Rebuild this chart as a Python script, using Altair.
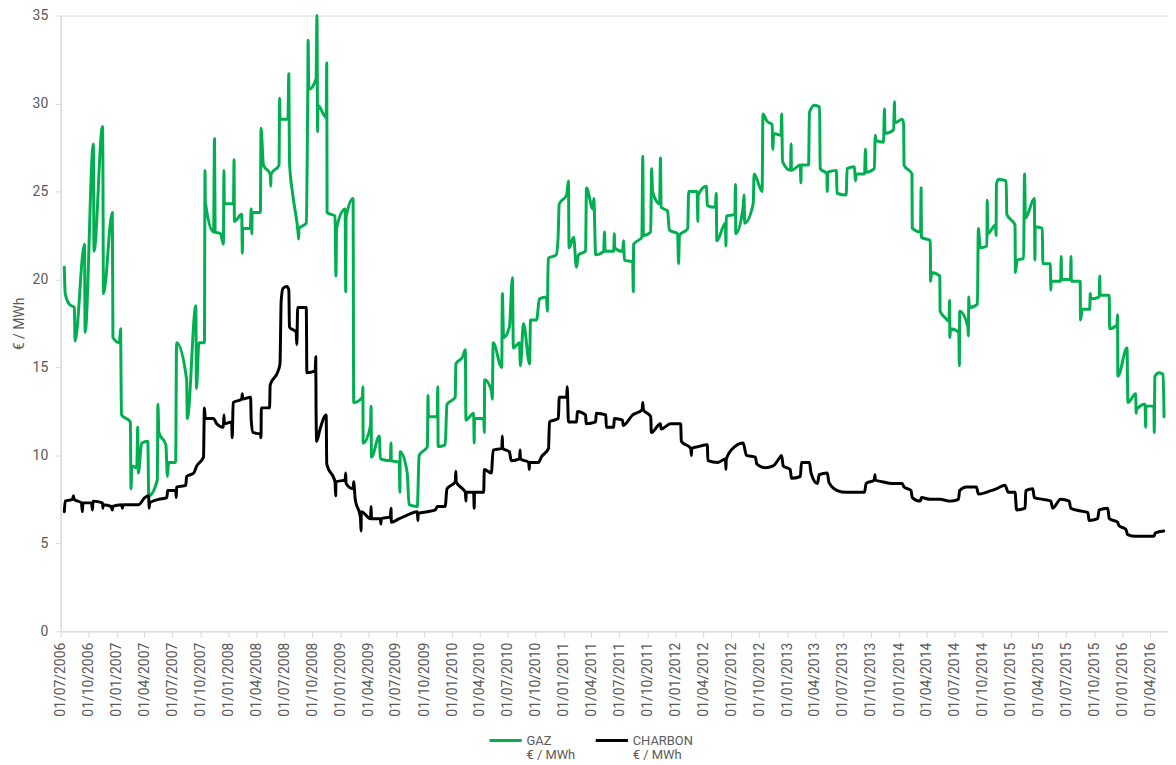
import altair as alt
import pandas as pd

series_names = ["GAZ", "CHARBON"]
series_colors = ["#00B050", "#000000"]
unit_label = "€ / MWh"

gaz_dates = [
    "2006-07-13", "2006-07-16", "2006-07-29", "2006-08-15", "2006-08-17", "2006-09-17", "2006-09-19",
    "2006-10-16", "2006-10-18", "2006-11-15", "2006-11-16", "2006-11-18", "2006-12-17", "2006-12-19",
    "2007-01-09", "2007-01-13", "2007-01-14", "2007-01-16", "2007-02-14", "2007-02-16", "2007-02-19",
    "2007-03-07", "2007-03-10", "2007-03-12", "2007-03-23", "2007-04-12", "2007-04-15", "2007-05-13",
    "2007-05-15", "2007-05-18", "2007-06-10", "2007-06-15", "2007-06-19", "2007-07-12", "2007-07-15",
    "2007-08-17", "2007-08-19", "2007-09-16", "2007-09-18", "2007-09-26", "2007-10-14", "2007-10-16",
    "2007-10-17", "2007-11-13", "2007-11-16", "2007-11-18", "2007-12-06", "2007-12-15", "2007-12-17",
    "2007-12-18", "2008-01-17", "2008-01-19", "2008-01-20", "2008-02-13", "2008-02-15", "2008-02-16",
    "2008-03-12", "2008-03-15", "2008-03-17", "2008-03-18", "2008-04-14", "2008-04-16", "2008-04-24",
    "2008-05-16", "2008-05-18", "2008-05-19", "2008-06-14", "2008-06-16", "2008-06-17", "2008-07-13",
    "2008-07-16", "2008-07-18", "2008-07-29", "2008-08-15", "2008-08-17", "2008-08-18", "2008-09-11",
    "2008-09-14", "2008-09-16", "2008-09-17", "2008-09-19", "2008-10-13", "2008-10-16", "2008-10-18",
    "2008-10-19", "2008-11-15", "2008-11-17", "2008-11-18", "2008-12-14", "2008-12-17", "2008-12-19",
    "2009-01-16", "2009-01-18", "2009-01-19", "2009-02-11", "2009-02-13", "2009-03-13", "2009-03-15",
    "2009-03-16", "2009-04-09", "2009-04-11", "2009-04-12", "2009-05-08", "2009-05-11", "2009-06-13",
    "2009-06-15", "2009-06-16", "2009-07-12", "2009-07-14", "2009-07-15", "2009-08-07", "2009-08-13",
    "2009-09-09", "2009-09-15", "2009-10-12", "2009-10-14", "2009-10-15", "2009-11-13", "2009-11-15",
    "2009-11-16", "2009-12-09", "2009-12-15", "2010-01-11", "2010-01-13", "2010-02-04", "2010-02-13",
    "2010-02-15", "2010-03-12", "2010-03-14", "2010-03-15", "2010-04-14", "2010-04-16", "2010-04-17",
    "2010-05-09", "2010-05-12", "2010-05-15", "2010-06-12", "2010-06-14", "2010-06-18", "2010-07-07",
    "2010-07-17", "2010-07-20", "2010-08-09", "2010-08-12", "2010-08-22", "2010-09-11", "2010-09-14",
    "2010-10-04", "2010-10-13", "2010-11-05", "2010-11-08", "2010-11-11", "2010-12-07", "2010-12-13",
    "2010-12-17", "2011-01-10", "2011-01-16", "2011-01-18", "2011-02-02", "2011-02-11", "2011-02-18",
    "2011-03-13", "2011-03-16", "2011-04-06", "2011-04-09", "2011-04-15", "2011-05-11", "2011-05-14",
    "2011-05-16", "2011-06-13", "2011-06-15", "2011-06-16", "2011-07-12", "2011-07-15", "2011-07-18",
    "2011-08-14", "2011-08-16", "2011-08-17", "2011-09-13", "2011-09-16", "2011-09-18", "2011-10-12",
    "2011-10-15", "2011-10-18", "2011-11-10", "2011-11-13", "2011-11-15", "2011-12-06", "2011-12-12",
    "2012-01-08", "2012-01-11", "2012-01-14", "2012-02-10", "2012-02-13", "2012-03-12", "2012-03-14",
    "2012-03-15", "2012-04-11", "2012-04-14", "2012-05-10", "2012-05-13", "2012-05-15", "2012-06-12",
    "2012-06-14", "2012-06-15", "2012-07-13", "2012-07-15", "2012-07-16", "2012-08-09", "2012-08-12",
    "2012-08-14", "2012-09-11", "2012-09-14", "2012-10-10", "2012-10-13", "2012-10-26", "2012-11-12",
    "2012-11-14", "2012-11-17", "2012-12-11", "2012-12-13", "2012-12-16", "2013-01-11", "2013-01-13",
    "2013-01-14", "2013-02-12", "2013-02-14", "2013-02-15", "2013-03-11", "2013-03-14", "2013-03-30",
    "2013-04-16", "2013-04-18", "2013-05-10", "2013-05-11", "2013-05-13", "2013-06-10", "2013-06-12",
    "2013-07-12", "2013-07-15", "2013-08-08", "2013-08-11", "2013-08-14", "2013-09-10", "2013-09-13",
    "2013-09-15", "2013-10-12", "2013-10-15", "2013-10-17", "2013-11-11", "2013-11-14", "2013-11-16",
    "2013-12-14", "2013-12-17", "2013-12-18", "2014-01-11", "2014-01-16", "2014-01-17", "2014-02-12",
    "2014-02-13", "2014-03-12", "2014-03-14", "2014-03-15", "2014-04-13", "2014-04-14", "2014-04-17",
    "2014-05-14", "2014-05-15", "2014-06-02", "2014-06-13", "2014-06-15", "2014-06-16", "2014-06-18",
    "2014-07-15", "2014-07-17", "2014-07-18", "2014-08-14", "2014-08-15", "2014-08-17", "2014-08-18",
    "2014-09-14", "2014-09-17", "2014-09-23", "2014-10-15", "2014-10-16", "2014-10-18", "2014-11-12",
    "2014-11-14", "2014-11-15", "2014-11-22", "2014-12-17", "2014-12-19", "2015-01-15", "2015-01-16",
    "2015-01-22", "2015-02-12", "2015-02-15", "2015-02-18", "2015-03-19", "2015-03-21", "2015-03-22",
    "2015-04-14", "2015-04-16", "2015-05-10", "2015-05-12", "2015-05-13", "2015-06-13", "2015-06-15",
    "2015-06-16", "2015-07-15", "2015-07-17", "2015-07-18", "2015-08-16", "2015-08-17", "2015-08-23",
    "2015-09-16", "2015-09-18", "2015-09-19", "2015-10-17", "2015-10-19", "2015-10-20", "2015-11-19",
    "2015-11-20", "2015-12-14", "2015-12-16", "2015-12-17", "2016-01-16", "2016-01-19", "2016-02-13",
    "2016-02-15", "2016-02-16", "2016-03-15", "2016-03-17", "2016-03-18", "2016-04-13", "2016-04-14",
    "2016-04-16", "2016-04-30", "2016-05-13", "2016-05-16",
]
gaz_values = [
    20.7, 19.2, 18.6, 18.4, 16.5, 22.0, 17.0,
    27.7, 21.6, 28.7, 27.1, 19.2, 23.8, 16.7,
    16.4, 17.2, 15.4, 12.3, 11.9, 8.1, 9.4,
    9.3, 11.6, 9.0, 10.7, 10.8, 7.7, 8.6,
    12.9, 11.3, 10.6, 8.8, 9.6, 9.6, 16.4,
    14.3, 12.1, 18.5, 13.8, 16.4, 16.4, 26.2,
    24.4, 22.7, 28.0, 22.7, 22.6, 22.0, 26.2,
    24.3, 24.3, 26.8, 23.3, 23.7, 21.5, 22.9,
    22.9, 24.0, 22.6, 23.8, 23.8, 28.6, 26.5,
    26.0, 25.3, 26.0, 26.5, 30.3, 29.1, 29.1,
    31.7, 26.7, 24.8, 22.7, 22.3, 22.9, 23.2,
    26.8, 30.8, 33.6, 30.8, 31.4, 35.0, 28.4,
    29.9, 29.2, 32.3, 23.8, 23.6, 20.2, 22.9,
    24.0, 19.3, 23.5, 24.6, 13.0, 13.3, 13.9,
    10.7, 11.7, 12.8, 9.9, 11.1, 9.8, 9.7,
    10.7, 9.7, 9.6, 7.9, 10.2, 9.0, 7.2,
    7.1, 10.0, 10.5, 13.4, 12.2, 12.2, 13.9,
    10.5, 10.6, 12.9, 13.3, 15.2, 15.6, 16.0,
    12.0, 12.4, 10.7, 12.1, 12.1, 11.3, 14.3,
    13.7, 13.2, 16.4, 15.0, 19.2, 16.7, 17.3,
    20.1, 16.1, 16.4, 15.1, 17.5, 15.2, 17.7,
    17.7, 18.9, 19.0, 18.2, 21.2, 21.4, 22.3,
    24.3, 24.8, 25.6, 21.8, 22.4, 20.7, 21.4,
    21.6, 25.2, 24.0, 24.6, 21.4, 21.6, 22.7,
    21.6, 21.6, 22.6, 21.8, 21.6, 22.2, 21.1,
    21.0, 19.3, 22.0, 22.4, 27.0, 22.5, 22.7,
    26.3, 25.0, 24.3, 26.9, 24.1, 23.9, 22.8,
    22.6, 20.9, 22.5, 22.9, 25.0, 25.0, 23.3,
    24.8, 25.3, 24.2, 24.1, 24.9, 22.2, 23.2,
    21.9, 23.6, 23.7, 25.4, 22.6, 24.1, 24.8,
    23.2, 24.3, 26.0, 25.0, 29.4, 29.0, 28.8,
    27.4, 28.3, 28.2, 29.4, 26.7, 26.2, 27.7,
    26.2, 26.5, 25.5, 26.5, 26.5, 29.5, 29.9,
    29.8, 26.3, 26.0, 25.0, 26.1, 26.2, 24.9,
    24.8, 26.3, 26.4, 25.6, 26.0, 26.0, 27.4,
    26.1, 26.3, 28.2, 27.9, 27.8, 29.7, 28.3,
    28.5, 30.1, 28.9, 29.1, 28.8, 26.5, 26.0,
    22.9, 22.7, 25.2, 22.4, 22.2, 19.9, 20.4,
    20.2, 18.2, 17.8, 17.6, 18.8, 16.7, 17.2,
    17.0, 15.1, 18.2, 17.3, 16.8, 19.0, 18.4,
    18.6, 22.9, 21.8, 21.9, 24.5, 22.6, 23.1,
    22.5, 25.4, 25.7, 25.6, 23.7, 23.1, 20.4,
    21.1, 21.2, 26.0, 23.5, 24.6, 21.1, 23.0,
    22.9, 20.9, 20.9, 19.4, 19.9, 19.9, 21.3,
    20.0, 20.0, 21.3, 19.9, 19.9, 17.7, 18.3,
    18.3, 19.2, 18.9, 19.0, 20.2, 19.1, 19.1,
    17.2, 17.4, 18.0, 14.5, 16.1, 13.0, 13.5,
    12.4, 12.6, 12.9, 11.6, 12.8, 12.8, 11.3,
    14.5, 14.7, 14.6, 12.2,
]

charbon_dates = [
    "2006-07-13", "2006-07-16", "2006-08-09", "2006-08-12", "2006-08-14", "2006-09-07", "2006-09-10",
    "2006-09-12", "2006-10-10", "2006-10-13", "2006-10-15", "2006-11-15", "2006-11-16", "2006-11-18",
    "2006-12-13", "2006-12-17", "2006-12-18", "2007-01-16", "2007-01-19", "2007-01-21", "2007-02-18",
    "2007-03-13", "2007-04-02", "2007-04-15", "2007-04-16", "2007-04-18", "2007-05-17", "2007-06-13",
    "2007-06-16", "2007-07-12", "2007-07-14", "2007-07-15", "2007-08-14", "2007-08-17", "2007-09-09",
    "2007-09-19", "2007-10-11", "2007-10-14", "2007-10-17", "2007-11-13", "2007-11-23", "2007-12-15",
    "2007-12-17", "2007-12-18", "2008-01-11", "2008-01-13", "2008-01-16", "2008-02-13", "2008-02-15",
    "2008-02-16", "2008-03-13", "2008-03-15", "2008-03-21", "2008-04-14", "2008-04-16", "2008-04-17",
    "2008-05-14", "2008-05-16", "2008-06-11", "2008-06-17", "2008-06-21", "2008-06-27", "2008-07-10",
    "2008-07-16", "2008-07-18", "2008-08-09", "2008-08-11", "2008-08-14", "2008-09-11", "2008-09-13",
    "2008-10-10", "2008-10-12", "2008-10-13", "2008-10-15", "2008-10-26", "2008-11-15", "2008-11-17",
    "2008-12-14", "2008-12-16", "2008-12-17", "2009-01-16", "2009-01-18", "2009-01-19", "2009-02-11",
    "2009-02-13", "2009-02-18", "2009-03-07", "2009-03-09", "2009-03-10", "2009-04-09", "2009-04-11",
    "2009-04-12", "2009-05-11", "2009-05-13", "2009-05-14", "2009-06-13", "2009-06-15", "2009-06-16",
    "2009-07-12", "2009-08-07", "2009-09-09", "2009-09-11", "2009-09-12", "2009-10-12", "2009-11-07",
    "2009-11-13", "2009-12-09", "2009-12-15", "2010-01-11", "2010-01-13", "2010-01-14", "2010-02-04",
    "2010-02-13", "2010-02-15", "2010-02-16", "2010-03-12", "2010-03-14", "2010-03-15", "2010-04-14",
    "2010-04-16", "2010-05-09", "2010-05-15", "2010-06-12", "2010-06-14", "2010-06-15", "2010-07-07",
    "2010-07-13", "2010-08-09", "2010-08-11", "2010-08-12", "2010-09-08", "2010-09-10", "2010-09-11",
    "2010-10-10", "2010-10-19", "2010-11-12", "2010-11-15", "2010-12-14", "2010-12-17", "2011-01-10",
    "2011-01-12", "2011-01-16", "2011-02-12", "2011-02-14", "2011-03-13", "2011-03-15", "2011-04-15",
    "2011-04-17", "2011-05-18", "2011-05-20", "2011-06-13", "2011-06-15", "2011-07-12", "2011-07-14",
    "2011-08-14", "2011-09-14", "2011-09-16", "2011-09-18", "2011-10-12", "2011-10-14", "2011-11-13",
    "2011-11-15", "2011-12-16", "2012-01-18", "2012-01-20", "2012-02-20", "2012-02-22", "2012-02-23",
    "2012-03-15", "2012-04-14", "2012-04-16", "2012-05-19", "2012-06-12", "2012-06-14", "2012-06-15",
    "2012-07-13", "2012-08-09", "2012-08-20", "2012-09-18", "2012-09-23", "2012-10-20", "2012-11-15",
    "2012-12-08", "2012-12-13", "2012-12-18", "2013-01-10", "2013-01-14", "2013-02-12", "2013-02-16",
    "2013-03-14", "2013-03-19", "2013-04-09", "2013-04-15", "2013-05-11", "2013-05-17", "2013-06-13",
    "2013-07-12", "2013-08-14", "2013-09-10", "2013-09-15", "2013-10-12", "2013-10-14", "2013-10-15",
    "2013-11-07", "2013-12-09", "2014-01-11", "2014-01-17", "2014-02-09", "2014-02-13", "2014-03-11",
    "2014-03-15", "2014-04-13", "2014-05-14", "2014-06-17", "2014-07-14", "2014-07-18", "2014-08-09",
    "2014-09-11", "2014-09-17", "2014-10-13", "2014-11-15", "2014-12-13", "2014-12-24", "2015-01-15",
    "2015-01-20", "2015-02-17", "2015-02-19", "2015-03-14", "2015-03-19", "2015-04-16", "2015-05-12",
    "2015-05-18", "2015-06-13", "2015-07-11", "2015-07-16", "2015-08-13", "2015-09-10", "2015-09-14",
    "2015-10-12", "2015-10-17", "2015-11-14", "2015-11-19", "2015-12-16", "2015-12-21", "2016-01-12",
    "2016-01-18", "2016-02-13", "2016-03-15", "2016-04-13", "2016-04-18", "2016-05-15",
]
charbon_values = [
    6.8, 7.4, 7.5, 7.7, 7.5, 7.3, 6.8,
    7.3, 7.3, 6.9, 7.4, 7.3, 7.0, 7.2,
    7.1, 6.9, 7.1, 7.2, 7.0, 7.2, 7.2,
    7.2, 7.6, 7.7, 7.0, 7.3, 7.5, 7.6,
    8.0, 8.0, 7.6, 8.2, 8.3, 8.8, 9.0,
    9.4, 9.9, 12.7, 12.1, 12.1, 11.8, 11.6,
    12.3, 11.8, 11.9, 11.0, 13.0, 13.2, 13.5,
    13.2, 13.3, 12.0, 11.3, 11.2, 11.0, 12.7,
    12.7, 14.0, 14.8, 15.2, 18.8, 19.5, 19.6,
    19.4, 17.3, 17.0, 16.3, 18.4, 18.4, 14.7,
    14.8, 15.6, 12.6, 10.8, 11.5, 12.3, 9.5,
    8.5, 7.7, 8.5, 8.6, 9.0, 8.4, 8.1,
    8.5, 7.5, 6.5, 5.7, 6.8, 6.4, 7.1,
    6.4, 6.4, 6.1, 6.4, 6.5, 7.0, 6.2,
    6.4, 6.6, 6.8, 6.3, 6.7, 6.8, 6.9,
    7.1, 7.1, 8.1, 8.5, 9.1, 8.5, 8.1,
    7.9, 7.4, 7.9, 7.9, 7.0, 7.9, 7.9,
    9.2, 9.0, 10.3, 10.4, 11.1, 10.4, 10.2,
    9.7, 9.8, 10.3, 9.8, 9.6, 9.2, 9.6,
    9.6, 9.9, 10.4, 11.9, 12.1, 13.3, 13.3,
    13.9, 11.9, 11.9, 12.5, 12.3, 11.8, 11.9,
    12.4, 12.3, 11.6, 11.6, 12.1, 12.0, 11.7,
    12.3, 12.6, 13.0, 12.6, 12.2, 11.3, 11.8,
    11.5, 11.8, 11.8, 10.8, 10.4, 10.0, 10.4,
    10.5, 10.6, 9.7, 9.6, 9.8, 9.2, 9.8,
    10.5, 10.7, 10.0, 9.9, 9.5, 9.3, 9.4,
    9.9, 10.0, 9.4, 9.2, 8.7, 8.8, 9.6,
    9.6, 9.0, 8.4, 8.9, 9.0, 8.45, 8.0,
    7.9, 7.9, 7.9, 8.4, 8.6, 8.9, 8.6,
    8.5, 8.4, 8.4, 8.2, 8.0, 7.6, 7.4,
    7.6, 7.5, 7.5, 7.4, 7.5, 8.0, 8.2,
    8.2, 7.8, 7.9, 8.1, 8.3, 7.9, 7.9,
    6.9, 7.0, 8.0, 8.1, 7.6, 7.5, 7.4,
    7.0, 7.5, 7.4, 7.0, 6.85, 6.75, 6.3,
    6.4, 6.9, 7.0, 6.4, 6.2, 6.0, 5.8,
    5.5, 5.4, 5.4, 5.4, 5.6, 5.7,
]

y_ticks = [0, 5, 10, 15, 20, 25, 30, 35]
x_tick_dates = [
    "2006-07-01", "2006-10-01", "2007-01-01", "2007-04-01", "2007-07-01", "2007-10-01",
    "2008-01-01", "2008-04-01", "2008-07-01", "2008-10-01", "2009-01-01", "2009-04-01",
    "2009-07-01", "2009-10-01", "2010-01-01", "2010-04-01", "2010-07-01", "2010-10-01",
    "2011-01-01", "2011-04-01", "2011-07-01", "2011-10-01", "2012-01-01", "2012-04-01",
    "2012-07-01", "2012-10-01", "2013-01-01", "2013-04-01", "2013-07-01", "2013-10-01",
    "2014-01-01", "2014-04-01", "2014-07-01", "2014-10-01", "2015-01-01", "2015-04-01",
    "2015-07-01", "2015-10-01", "2016-01-01", "2016-04-01",
]
x_domain = ["2006-07-01", "2016-05-29"]


def to_dt(s):
    y, m, d = (int(p) for p in s.split("-"))
    return alt.DateTime(year=y, month=m, date=d, utc=True)


df = pd.concat([
    pd.DataFrame({"date": gaz_dates, "value": gaz_values, "series": series_names[0]}),
    pd.DataFrame({"date": charbon_dates, "value": charbon_values, "series": series_names[1]}),
], ignore_index=True)

FONT = "Roboto"
GREY = "#595959"
LINE = "#d9d9d9"

x_enc = alt.X(
    "date:T",
    scale=alt.Scale(type="utc", domain=[to_dt(d) for d in x_domain]),
    axis=alt.Axis(
        values=[to_dt(d) for d in x_tick_dates],
        format="%d/%m/%Y",
        labelAngle=270,
        labelAlign="right",
        labelBaseline="middle",
        labelOverlap=False,
        labelPadding=5,
        tickSize=6,
        title=None,
        grid=False,
    ),
)
y_enc = alt.Y(
    "value:Q",
    scale=alt.Scale(domain=[0, 35], nice=False),
    axis=alt.Axis(
        values=y_ticks,
        title=unit_label,
        titlePadding=6,
        labelPadding=8,
        tickSize=5,
        grid=False,
    ),
)
color_enc = alt.Color(
    "series:N",
    scale=alt.Scale(domain=series_names, range=series_colors),
    legend=alt.Legend(
        title=None,
        orient="none",
        legendX=430,
        legendY=712,
        direction="horizontal",
        symbolType="stroke",
        symbolSize=1050,
        symbolStrokeWidth=3,
        labelExpr="[datum.label, '" + unit_label + "']",
        labelFont=FONT,
        labelFontSize=13,
        labelColor=GREY,
        labelOffset=3,
        labelLimit=0,
        columnPadding=13,
    ),
)

base = alt.Chart(df).mark_line(
    interpolate="monotone", strokeWidth=3, strokeJoin="round", strokeCap="round"
).encode(x=x_enc, y=y_enc, color=color_enc)

gaz_layer = base.transform_filter(alt.datum.series == series_names[0])
charbon_layer = base.transform_filter(alt.datum.series == series_names[1])

chart = (
    alt.layer(gaz_layer, charbon_layer)
    .properties(
        width=1115,
        height=620,
        autosize=alt.AutoSizeParams(type="none"),
        padding={"left": 53, "top": 5, "right": 0, "bottom": 132},
    )
    .configure_view(stroke=LINE, strokeWidth=1)
    .configure_axis(
        domainColor=LINE,
        tickColor=LINE,
        labelColor=GREY,
        labelFont=FONT,
        labelFontSize=14,
        titleColor=GREY,
        titleFont=FONT,
        titleFontSize=14,
        titleFontWeight="normal",
    )
)

chart.save("out.html", embed_options={"renderer": "svg", "actions": False})
